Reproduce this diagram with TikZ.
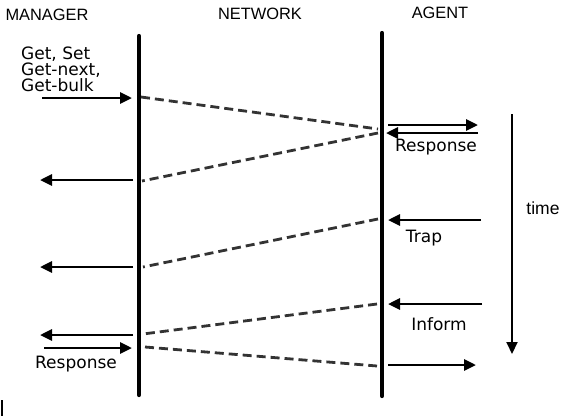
\documentclass[tikz,border=0pt]{standalone}
\usepackage{fontspec}
\setmainfont{DejaVu Sans}
\newfontfamily\headfont{Liberation Sans}
\usetikzlibrary{arrows.meta}

\begin{document}
\begin{tikzpicture}[x=1pt,y=-1pt,>={Triangle[length=12pt,width=11pt]},
    life/.style={line width=4.2pt,line cap=round},
    msg/.style={line width=2.8pt,->},
    net/.style={line width=2.8pt,black!80,dash pattern=on 9pt off 5pt},
    head/.style={font=\headfont\fontsize{16.4}{16}\selectfont,inner sep=0pt},
    lbl/.style={font=\fontsize{17}{16}\selectfont,inner sep=0pt}]
  \useasboundingbox (0,0) rectangle (570,416);
  \node[head] (mgr) at (47,15) {MANAGER};
  \node[head] (netw) at (260,14) {NETWORK};
  \node[head] (agt) at (440,13) {AGENT};

  \coordinate (mtop) at (139,36);
  \coordinate (mbot) at (139,395);
  \coordinate (atop) at (382,33);
  \coordinate (abot) at (382,396);
  \draw[life] (mtop) -- (mbot);
  \draw[life] (atop) -- (abot);

  % request
  \node[lbl,anchor=west,align=left] (req) at (21,69) {Get, Set\\Get-next,\\Get-bulk};
  \coordinate (r0) at (42,98);  \coordinate (r1) at (132,98);
  \draw[msg] (r0) -- (r1);
  \coordinate (n1a) at (141,97);  \coordinate (n1b) at (378,129);
  \draw[net] (n1a) -- (n1b);
  \coordinate (a0) at (388,125);  \coordinate (a1) at (478,125);
  \draw[msg] (a0) -- (a1);
  \coordinate (a2) at (478,133);  \coordinate (a3) at (386,133);
  \draw[msg] (a2) -- (a3);
  \node[lbl] (resp1) at (436,147) {Response};
  \coordinate (n2a) at (378,133);  \coordinate (n2b) at (142,181);
  \draw[net] (n2a) -- (n2b);
  \coordinate (m0) at (133,180);  \coordinate (m1) at (40,180);
  \draw[msg] (m0) -- (m1);

  % trap
  \coordinate (t0) at (481,220);  \coordinate (t1) at (388,220);
  \draw[msg] (t0) -- (t1);
  \node[lbl] (trap) at (424,238) {Trap};
  \coordinate (n3a) at (378,219);  \coordinate (n3b) at (143,267);
  \draw[net] (n3a) -- (n3b);
  \coordinate (m2) at (133,267);  \coordinate (m3) at (40,267);
  \draw[msg] (m2) -- (m3);

  % inform
  \coordinate (i0) at (482,304);  \coordinate (i1) at (388,304);
  \draw[msg] (i0) -- (i1);
  \node[lbl] (inform) at (439,324) {Inform};
  \coordinate (n4a) at (377,304);  \coordinate (n4b) at (143,334);
  \draw[net] (n4a) -- (n4b);
  \coordinate (m4) at (133,335);  \coordinate (m5) at (40,335);
  \draw[msg] (m4) -- (m5);
  \coordinate (m6) at (44,348);  \coordinate (m7) at (132,348);
  \draw[msg] (m6) -- (m7);
  \node[lbl] (resp2) at (76,364) {Response};
  \coordinate (n5a) at (145,347);  \coordinate (n5b) at (377,366);
  \draw[net] (n5a) -- (n5b);
  \coordinate (i2) at (388,365);  \coordinate (i3) at (476,365);
  \draw[msg] (i2) -- (i3);

  % time
  \coordinate (tm0) at (512,114);  \coordinate (tm1) at (512,354);
  \draw[line width=2pt,->] (tm0) -- (tm1);
  \node[head,font=\headfont\fontsize{17.5}{16}\selectfont] (time) at (543,208) {time};

  \coordinate (k0) at (2,400);  \coordinate (k1) at (2,416);
  \draw[line width=1.5pt] (k0) -- (k1);
\end{tikzpicture}
\end{document}
